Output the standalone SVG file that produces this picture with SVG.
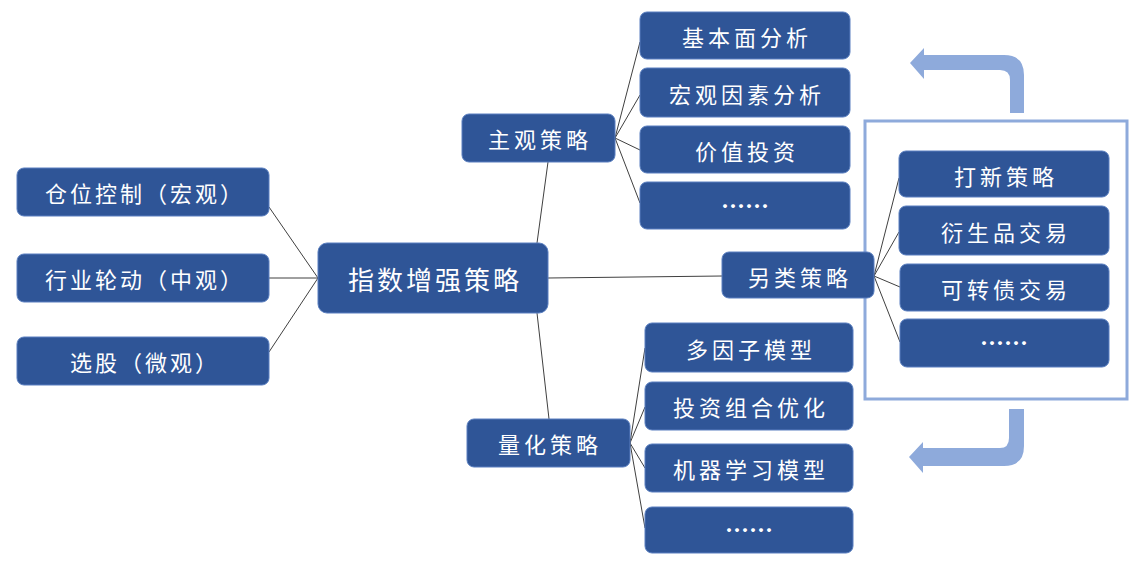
<svg xmlns="http://www.w3.org/2000/svg" width="1134" height="564" viewBox="0 0 1134 564">
<style>
.b{fill:#2f5597;stroke:#5a7fc0;stroke-width:1}
.t{fill:#fff;font-family:"Noto Sans CJK SC","Noto Sans",sans-serif;font-size:22px;letter-spacing:4px;text-anchor:middle;dominant-baseline:central}
.d{letter-spacing:0;font-weight:bold;font-size:24px}
.c{stroke:#404040;stroke-width:1;fill:none}
.a{fill:#8eaadb}
</style>
<rect width="1134" height="564" fill="#fff"/>
<g id="frame"><rect x="865" y="121" width="262" height="278" fill="none" stroke="#8eaadb" stroke-width="3"/></g>
<g id="arrows">
<path class="a" d="M1024,113 V75 Q1024,55 1004,55 H924 V48 L910,63 L924,79 V70 H1000 Q1010,70 1010,80 V113 Z"/>
<path class="a" d="M1024,409 V446 Q1024,466 1004,466 H923 V473 L909,457 L923,442 V448 H1000 Q1009,448 1009,438 V409 Z"/>
</g>
<g id="connectors">
<line class="c" x1="269" y1="207" x2="318" y2="278"/>
<line class="c" x1="269" y1="278" x2="318" y2="278"/>
<line class="c" x1="269" y1="352" x2="318" y2="278"/>
<line class="c" x1="537" y1="243" x2="548" y2="162"/>
<line class="c" x1="537" y1="313" x2="549" y2="419"/>
<line class="c" x1="548" y1="278" x2="722" y2="276"/>
<line class="c" x1="615" y1="138" x2="640" y2="42"/>
<line class="c" x1="615" y1="138" x2="640" y2="95"/>
<line class="c" x1="615" y1="138" x2="640" y2="150"/>
<line class="c" x1="615" y1="138" x2="640" y2="203"/>
<line class="c" x1="630" y1="443" x2="645" y2="348"/>
<line class="c" x1="630" y1="443" x2="645" y2="407"/>
<line class="c" x1="630" y1="443" x2="645" y2="468"/>
<line class="c" x1="630" y1="443" x2="645" y2="528"/>
<line class="c" x1="874" y1="276" x2="899" y2="178"/>
<line class="c" x1="874" y1="276" x2="899" y2="232"/>
<line class="c" x1="874" y1="276" x2="900" y2="287"/>
<line class="c" x1="874" y1="276" x2="900" y2="342"/>
</g>
<g id="n1"><rect class="b" x="17" y="168" width="252" height="48" rx="7"/><text class="t" x="145" y="192" style="letter-spacing:3px">仓位控制（宏观）</text></g>
<g id="n2"><rect class="b" x="17" y="254" width="252" height="48" rx="7"/><text class="t" x="145" y="278" style="letter-spacing:3px">行业轮动（中观）</text></g>
<g id="n3"><rect class="b" x="17" y="337" width="252" height="48" rx="7"/><text class="t" x="145" y="361" style="letter-spacing:3px">选股（微观）</text></g>
<g id="root"><rect class="b" x="318" y="243" width="230" height="70" rx="9"/><text class="t" x="435" y="278" style="font-size:26px;letter-spacing:3px">指数增强策略</text></g>
<g id="zg"><rect class="b" x="462" y="114" width="153" height="48" rx="7"/><text class="t" x="540" y="138">主观策略</text></g>
<g id="zg1"><rect class="b" x="640" y="12" width="210" height="47" rx="7"/><text class="t" x="747" y="36">基本面分析</text></g>
<g id="zg2"><rect class="b" x="640" y="68" width="210" height="49" rx="7"/><text class="t" x="747" y="93">宏观因素分析</text></g>
<g id="zg3"><rect class="b" x="640" y="126" width="210" height="47" rx="7"/><text class="t" x="747" y="150">价值投资</text></g>
<g id="zg4"><rect class="b" x="640" y="182" width="210" height="47" rx="7"/><text class="t d" x="745" y="204">……</text></g>
<g id="lh"><rect class="b" x="467" y="419" width="163" height="48" rx="7"/><text class="t" x="550" y="443">量化策略</text></g>
<g id="lh1"><rect class="b" x="645" y="323" width="208" height="49" rx="7"/><text class="t" x="751" y="348">多因子模型</text></g>
<g id="lh2"><rect class="b" x="645" y="382" width="208" height="48" rx="7"/><text class="t" x="751" y="406">投资组合优化</text></g>
<g id="lh3"><rect class="b" x="645" y="444" width="208" height="48" rx="7"/><text class="t" x="751" y="468">机器学习模型</text></g>
<g id="lh4"><rect class="b" x="645" y="507" width="208" height="46" rx="7"/><text class="t d" x="749" y="528">……</text></g>
<g id="ll"><rect class="b" x="722" y="252" width="152" height="46" rx="7"/><text class="t" x="800" y="276">另类策略</text></g>
<g id="ll1"><rect class="b" x="899" y="151" width="210" height="46" rx="7"/><text class="t" x="1006" y="175">打新策略</text></g>
<g id="ll2"><rect class="b" x="899" y="206" width="210" height="49" rx="7"/><text class="t" x="1006" y="231">衍生品交易</text></g>
<g id="ll3"><rect class="b" x="900" y="264" width="209" height="47" rx="7"/><text class="t" x="1006" y="288">可转债交易</text></g>
<g id="ll4"><rect class="b" x="900" y="319" width="209" height="48" rx="7"/><text class="t d" x="1004" y="341">……</text></g>
</svg>
